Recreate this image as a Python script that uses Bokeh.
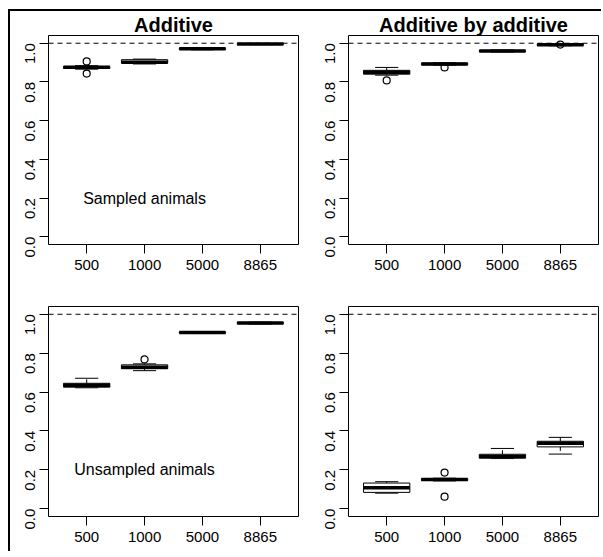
import math
from bokeh.plotting import figure
from bokeh.layouts import gridplot
from bokeh.models import Span, FixedTicker, Range1d, ColumnDataSource
from bokeh.core.properties import value
from bokeh.embed import file_html
from bokeh.resources import INLINE

FONT = "Liberation Sans"

categories = ["500", "1000", "5000", "8865"]
cat_pos = [1, 2, 3, 4]
y_ticks = [0.0, 0.2, 0.4, 0.6, 0.8, 1.0]
y_tick_labels = ["0.0", "0.2", "0.4", "0.6", "0.8", "1.0"]

# Additive - sampled animals
add_s_lw = [0.866, 0.893, 0.966, 0.993]
add_s_q1 = [0.870, 0.897, 0.968, 0.994]
add_s_med = [0.876, 0.902, 0.971, 0.996]
add_s_q3 = [0.880, 0.915, 0.974, 0.998]
add_s_uw = [0.884, 0.918, 0.976, 0.999]
add_s_out_x = [1, 1]
add_s_out_y = [0.906, 0.843]

# Additive by additive - sampled animals
aa_s_lw = [0.835, 0.887, 0.955, 0.987]
aa_s_q1 = [0.840, 0.889, 0.957, 0.989]
aa_s_med = [0.850, 0.893, 0.960, 0.992]
aa_s_q3 = [0.860, 0.897, 0.963, 0.995]
aa_s_uw = [0.875, 0.899, 0.965, 0.997]
aa_s_out_x = [1, 2, 4]
aa_s_out_y = [0.808, 0.875, 0.993]

# Additive - unsampled animals
add_u_lw = [0.622, 0.710, 0.901, 0.950]
add_u_q1 = [0.625, 0.720, 0.903, 0.952]
add_u_med = [0.635, 0.728, 0.906, 0.955]
add_u_q3 = [0.645, 0.740, 0.909, 0.958]
add_u_uw = [0.671, 0.745, 0.911, 0.960]
add_u_out_x = [2]
add_u_out_y = [0.768]

# Additive by additive - unsampled animals
aa_u_lw = [0.080, 0.143, 0.258, 0.281]
aa_u_q1 = [0.084, 0.145, 0.260, 0.318]
aa_u_med = [0.108, 0.150, 0.268, 0.337]
aa_u_q3 = [0.132, 0.155, 0.280, 0.347]
aa_u_uw = [0.139, 0.157, 0.310, 0.367]
aa_u_out_x = [2, 2]
aa_u_out_y = [0.186, 0.062]

reference_level = 1.0
titles = ["Additive", "Additive by additive"]
notes = ["Sampled animals", "Unsampled animals"]
note_x = 2
note_y = 0.2

X_LO, X_HI = 0.34, 4.66
Y_LO, Y_HI = -0.04, 1.04
BOX_HALF = 0.4
CAP_HALF = 0.2


def make_panel(lw, q1, med, q3, uw, ox, oy, title=None, note=None,
               width=298, height=264, left=38, right=10, top=23, bottom=31):
    p = figure(width=width, height=height, output_backend="svg",
               toolbar_location=None, x_range=Range1d(X_LO, X_HI),
               y_range=Range1d(Y_LO, Y_HI),
               min_border_left=left, min_border_right=right,
               min_border_top=top, min_border_bottom=bottom)
    p.background_fill_color = "white"
    p.border_fill_color = "white"
    p.outline_line_color = "black"
    p.outline_line_width = 1
    p.xgrid.visible = False
    p.ygrid.visible = False

    if title:
        p.title.text = title
        p.title.align = "center"
        p.title.text_font = FONT
        p.title.text_font_size = "20px"
        p.title.text_font_style = "bold"
        p.title.text_color = "black"
        p.title.standoff = 0
        p.title.offset = 0

    for ax in (p.xaxis[0], p.yaxis[0]):
        ax.axis_line_color = None
        ax.major_tick_in = 0
        ax.major_tick_out = 9
        ax.minor_tick_line_color = None
        ax.major_tick_line_color = "black"
        ax.major_label_text_font = FONT
        ax.major_label_text_font_size = "15px"
        ax.major_label_text_color = "black"
    p.xaxis.ticker = FixedTicker(ticks=cat_pos)
    p.xaxis.major_label_overrides = {c: l for c, l in zip(cat_pos, categories)}
    p.xaxis.major_label_standoff = 6
    p.yaxis.ticker = FixedTicker(ticks=y_ticks)
    p.yaxis.major_label_overrides = {t: l for t, l in zip(y_ticks, y_tick_labels)}
    p.yaxis.major_label_orientation = math.pi / 2
    p.yaxis.major_label_standoff = 9

    x = cat_pos
    src = ColumnDataSource(dict(
        x=x, lw=lw, q1=q1, med=med, q3=q3, uw=uw,
        left=[v - BOX_HALF for v in x], right=[v + BOX_HALF for v in x],
        cl=[v - CAP_HALF for v in x], cr=[v + CAP_HALF for v in x]))

    # whiskers (dashed) and caps
    p.segment(x0="x", y0="q3", x1="x", y1="uw", source=src,
              line_color="black", line_width=1, line_dash="4 3")
    p.segment(x0="x", y0="q1", x1="x", y1="lw", source=src,
              line_color="black", line_width=1, line_dash="4 3")
    p.segment(x0="cl", y0="uw", x1="cr", y1="uw", source=src,
              line_color="black", line_width=1)
    p.segment(x0="cl", y0="lw", x1="cr", y1="lw", source=src,
              line_color="black", line_width=1)
    # boxes
    p.quad(left="left", right="right", bottom="q1", top="q3", source=src,
           fill_color="white", line_color="black", line_width=1)
    # medians
    p.segment(x0="left", y0="med", x1="right", y1="med", source=src,
              line_color="black", line_width=3.5)
    # outliers
    p.scatter(x=ox, y=oy, marker="circle", size=7, fill_color=None,
              line_color="black", line_width=1.2)

    p.add_layout(Span(location=reference_level, dimension="width",
                      line_color="black", line_width=1, line_dash="5 4"))

    if note:
        p.text(x=[note_x], y=[note_y], text=[note], text_align="center",
               text_baseline="middle", text_font=value(FONT),
               text_font_size="16px", text_color="black")
    return p


p1 = make_panel(add_s_lw, add_s_q1, add_s_med, add_s_q3, add_s_uw,
                add_s_out_x, add_s_out_y, title=titles[0], note=notes[0],
                width=298, height=264, left=38, right=10, top=22, bottom=31)
p2 = make_panel(aa_s_lw, aa_s_q1, aa_s_med, aa_s_q3, aa_s_uw,
                aa_s_out_x, aa_s_out_y, title=titles[1], note=None,
                width=293, height=264, left=40, right=3, top=22, bottom=31)
p3 = make_panel(add_u_lw, add_u_q1, add_u_med, add_u_q3, add_u_uw,
                add_u_out_x, add_u_out_y, title=None, note=notes[1],
                width=298, height=276, left=38, right=10, top=31, bottom=35)
p4 = make_panel(aa_u_lw, aa_u_q1, aa_u_med, aa_u_q3, aa_u_uw,
                aa_u_out_x, aa_u_out_y, title=None, note=None,
                width=293, height=276, left=40, right=3, top=31, bottom=35)

grid = gridplot([[p1, p2], [p3, p4]], toolbar_location=None)
grid.styles = {"border-left": "2px solid black",
               "border-top": "2px solid black",
               "margin-top": "9px",
               "margin-left": "8px"}

open("out.html", "w").write(file_html(grid, INLINE))
